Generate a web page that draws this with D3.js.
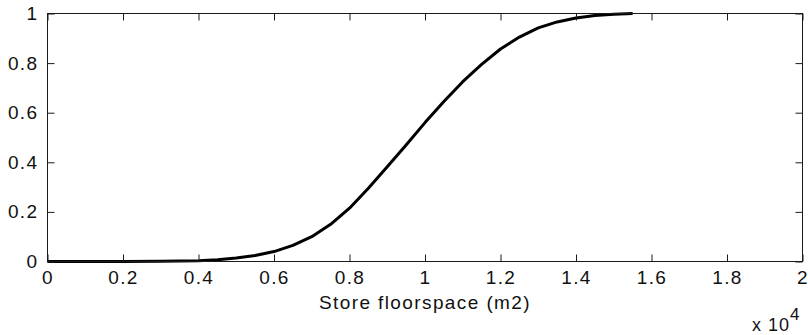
<!DOCTYPE html>
<html>
<head>
<meta charset="utf-8">
<script src="https://cdn.jsdelivr.net/npm/d3@7/dist/d3.min.js"></script>
<style>
  html, body { margin: 0; padding: 0; background: #fff; }
  svg { display: block; }
  text { font-family: "Liberation Sans", Arial, sans-serif; fill: #111; }
</style>
</head>
<body>
<svg id="chart" width="808" height="335"></svg>
<script>
// Cumulative share of stores by floorspace (m2)
const floorspace = [0, 1000, 2000, 3000, 4000, 4500, 5000, 5500, 6000, 6500, 7000,
  7500, 8000, 8500, 9000, 9500, 10000, 10500, 11000, 11500, 12000,
  12500, 13000, 13500, 14000, 14500, 15000, 15500];
const cumShare = [0, 0, 0, 0.001, 0.003, 0.007, 0.014, 0.024, 0.04, 0.065, 0.1,
  0.15, 0.215, 0.295, 0.382, 0.47, 0.56, 0.645, 0.725, 0.795, 0.857,
  0.905, 0.942, 0.966, 0.982, 0.992, 0.997, 1.0];

const xTicks = [0, 2000, 4000, 6000, 8000, 10000, 12000, 14000, 16000, 18000, 20000];
const xTickLabels = ["0", "0.2", "0.4", "0.6", "0.8", "1", "1.2", "1.4", "1.6", "1.8", "2"];
const yTicks = [0, 0.2, 0.4, 0.6, 0.8, 1];
const yTickLabels = ["0", "0.2", "0.4", "0.6", "0.8", "1"];
const xTitle = "Store floorspace (m2)";

const svg = d3.select("#chart");
const L = 47.5, R = 802.5, T = 13.5, B = 261.5;

const x = d3.scaleLinear().domain([0, 20000]).range([L, R]);
const y = d3.scaleLinear().domain([0, 1]).range([B, T]);

const fontSize = 19;
const spacing = "1.4px";
const axisColor = "#1a1a1a";

// curve
const line = d3.line().x((d, i) => x(floorspace[i])).y(d => y(d));
svg.append("path")
  .datum(cumShare)
  .attr("d", line)
  .attr("fill", "none")
  .attr("stroke", "#000")
  .attr("stroke-width", 3)
  .attr("stroke-linejoin", "round");

// box
svg.append("rect")
  .attr("x", L).attr("y", T)
  .attr("width", R - L).attr("height", B - T)
  .attr("fill", "none").attr("stroke", axisColor).attr("stroke-width", 1);

// inward ticks on all four sides
const tickLen = 7;
const xAxisB = d3.axisBottom(x).tickValues(xTicks).tickSizeInner(-tickLen).tickSizeOuter(0)
  .tickFormat((d, i) => xTickLabels[i]).tickPadding(tickLen + 4);
const gB = svg.append("g").attr("transform", `translate(0,${B})`).call(xAxisB);
const xAxisT = d3.axisTop(x).tickValues(xTicks).tickSizeInner(-tickLen).tickSizeOuter(0).tickFormat("");
const gT = svg.append("g").attr("transform", `translate(0,${T})`).call(xAxisT);
const yAxisL = d3.axisLeft(y).tickValues(yTicks).tickSizeInner(-tickLen).tickSizeOuter(0)
  .tickFormat((d, i) => yTickLabels[i]).tickPadding(tickLen + 2);
const gL = svg.append("g").attr("transform", `translate(${L},0)`).call(yAxisL);
const yAxisR = d3.axisRight(y).tickValues(yTicks).tickSizeInner(-tickLen).tickSizeOuter(0).tickFormat("");
const gR = svg.append("g").attr("transform", `translate(${R},0)`).call(yAxisR);

[gB, gT, gL, gR].forEach(g => {
  g.select(".domain").remove();
  g.selectAll(".tick line").attr("stroke", axisColor).attr("stroke-width", 1);
  g.selectAll(".tick text")
    .style("font-family", '"Liberation Sans", Arial, sans-serif')
    .style("font-size", fontSize + "px")
    .style("letter-spacing", spacing)
    .attr("fill", "#111");
});
// pull the bottom labels up a touch so they sit clear of the title
gB.selectAll(".tick text").attr("dy", "0.62em");

// axis title
svg.append("text")
  .attr("x", (L + R) / 2).attr("y", 309)
  .attr("text-anchor", "middle")
  .style("font-size", fontSize + "px")
  .style("letter-spacing", spacing)
  .text(xTitle);

// exponent marker
const expo = svg.append("text")
  .attr("x", 752).attr("y", 331)
  .style("font-size", (fontSize - 1) + "px")
  .style("letter-spacing", "1px");
expo.append("tspan").text("x 10");
expo.append("tspan").attr("dy", -11).style("font-size", (fontSize - 2) + "px").text("4");
</script>
</body>
</html>
